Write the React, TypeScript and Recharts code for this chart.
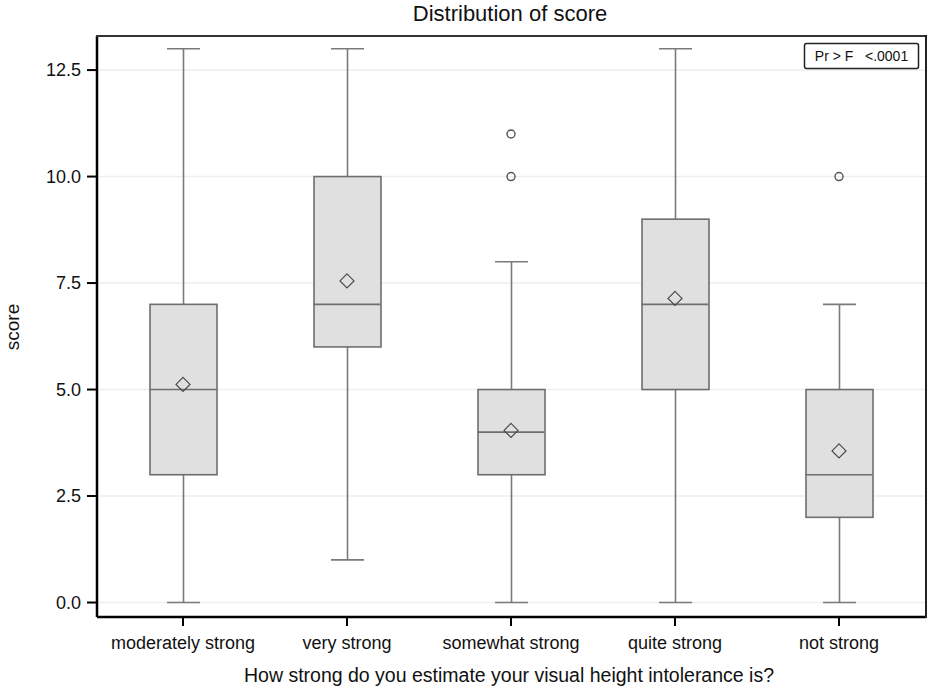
import React from "react";
import {
  Bar,
  CartesianGrid,
  ComposedChart,
  Line,
  XAxis,
  YAxis,
} from "recharts";

const categories = [
  "moderately strong",
  "very strong",
  "somewhat strong",
  "quite strong",
  "not strong",
];
const minValues = [0, 1, 0, 0, 0];
const q1Values = [3, 6, 3, 5, 2];
const medianValues = [5, 7, 4, 7, 3];
const q3Values = [7, 10, 5, 9, 5];
const maxValues = [13, 13, 8, 13, 7];
const meanValues = [5.12, 7.55, 4.04, 7.14, 3.56];
const outlierA = [null, null, 10, null, 10];
const outlierB = [null, null, 11, null, null];
const yTicks = [0, 2.5, 5, 7.5, 10, 12.5];

const data = categories.map((c, i) => ({
  cat: c,
  whisker: [minValues[i], maxValues[i]],
  box: [q1Values[i], q3Values[i]],
  median: medianValues[i],
  mean: meanValues[i],
  outA: outlierA[i],
  outB: outlierB[i],
}));

const font = "Arial, 'Liberation Sans', sans-serif";

function WhiskerShape(props: any) {
  const { x, y, width, height } = props;
  const cx = x + width / 2;
  return (
    <g stroke="#7a7a7a" strokeWidth={1.6}>
      <line x1={cx} x2={cx} y1={y} y2={y + height} />
      <line x1={x} x2={x + width} y1={y} y2={y} />
      <line x1={x} x2={x + width} y1={y + height} y2={y + height} />
    </g>
  );
}

function BoxShape(props: any) {
  const { x, y, width, height } = props;
  return (
    <rect
      x={x}
      y={y}
      width={width}
      height={height}
      fill="#e0e0e0"
      stroke="#6e6e6e"
      strokeWidth={1.6}
    />
  );
}

function MedianDot(props: any) {
  const { cx, cy, index } = props;
  if (cy == null || isNaN(cy)) return <g key={"m" + index} />;
  return (
    <line
      key={"m" + index}
      x1={cx - 33.5}
      x2={cx + 33.5}
      y1={cy}
      y2={cy}
      stroke="#6e6e6e"
      strokeWidth={1.6}
    />
  );
}

function MeanDot(props: any) {
  const { cx, cy, index } = props;
  if (cy == null || isNaN(cy)) return <g key={"d" + index} />;
  return (
    <path
      key={"d" + index}
      d={`M${cx},${cy - 7} L${cx + 7},${cy} L${cx},${cy + 7} L${cx - 7},${cy} Z`}
      fill="none"
      stroke="#4a4a4a"
      strokeWidth={1.2}
    />
  );
}

function OutlierDot(props: any) {
  const { cx, cy, index } = props;
  if (cy == null || isNaN(cy)) return <g key={"o" + index} />;
  return (
    <circle
      key={"o" + index}
      cx={cx}
      cy={cy}
      r={4}
      fill="none"
      stroke="#555"
      strokeWidth={1.4}
    />
  );
}

export default function App() {
  return (
    <div
      style={{
        position: "absolute",
        left: 0,
        top: 0,
        width: 934,
        height: 692,
        background: "#fff",
        fontFamily: font,
      }}
    >
      <ComposedChart
        width={934}
        height={692}
        data={data}
        margin={{ top: 36, right: 8, bottom: 42, left: 37 }}
      >
        <CartesianGrid vertical={false} stroke="#eeeeee" strokeWidth={1.5} />
        <XAxis
          xAxisId="a"
          dataKey="cat"
          padding={{ left: 4, right: 5 }}
          axisLine={{ stroke: "#000", strokeWidth: 2.5 }}
          tickLine={{ stroke: "#000", strokeWidth: 2 }}
          tickSize={9}
          tickMargin={10}
          tick={{ fill: "#111", fontSize: 18, fontFamily: font }}
          height={33}
          interval={0}
        />
        <XAxis xAxisId="b" dataKey="cat" hide padding={{ left: 4, right: 5 }} />
        <YAxis
          type="number"
          domain={[-0.34, 13.3]}
          ticks={yTicks}
          allowDataOverflow
          tickFormatter={(v: number) => v.toFixed(1)}
          width={60}
          axisLine={{ stroke: "#000", strokeWidth: 2.5 }}
          tickLine={{ stroke: "#000", strokeWidth: 2 }}
          tickSize={10}
          tickMargin={6}
          tick={{ fill: "#111", fontSize: 18, fontFamily: font }}
        />
        <Bar
          xAxisId="b"
          dataKey="whisker"
          barSize={33}
          shape={WhiskerShape}
          isAnimationActive={false}
        />
        <Bar
          xAxisId="a"
          dataKey="box"
          barSize={67}
          shape={BoxShape}
          isAnimationActive={false}
        />
        <Line
          xAxisId="a"
          dataKey="median"
          stroke="none"
          dot={MedianDot}
          activeDot={false}
          isAnimationActive={false}
        />
        <Line
          xAxisId="a"
          dataKey="mean"
          stroke="none"
          dot={MeanDot}
          activeDot={false}
          isAnimationActive={false}
        />
        <Line
          xAxisId="a"
          dataKey="outA"
          stroke="none"
          dot={OutlierDot}
          activeDot={false}
          isAnimationActive={false}
        />
        <Line
          xAxisId="a"
          dataKey="outB"
          stroke="none"
          dot={OutlierDot}
          activeDot={false}
          isAnimationActive={false}
        />
      </ComposedChart>
      <svg
        width={934}
        height={692}
        style={{ position: "absolute", left: 0, top: 0, pointerEvents: "none" }}
      >
        <text
          x={510}
          y={21}
          textAnchor="middle"
          fontSize={22}
          fontFamily={font}
          fill="#111"
        >
          Distribution of score
        </text>
        <text
          x={509}
          y={682}
          textAnchor="middle"
          fontSize={19.5}
          fontFamily={font}
          fill="#111"
        >
          How strong do you estimate your visual height intolerance is?
        </text>
        <text
          x={19}
          y={327}
          textAnchor="middle"
          fontSize={19}
          fontFamily={font}
          fill="#111"
          transform="rotate(-90 19 327)"
        >
          score
        </text>
        <line x1={96} x2={927} y1={36} y2={36} stroke="#333" strokeWidth={2} />
        <line x1={926} x2={926} y1={35} y2={618} stroke="#222" strokeWidth={2} />
        <rect
          x={804.5}
          y={43.5}
          width={114}
          height={25}
          rx={2}
          fill="#fff"
          stroke="#222"
          strokeWidth={1.5}
        />
        <text
          x={861.5}
          y={61}
          textAnchor="middle"
          fontSize={14}
          fontFamily={font}
          fill="#111"
          style={{ whiteSpace: "pre" }}
        >
          {"Pr > F   <.0001"}
        </text>
      </svg>
    </div>
  );
}
